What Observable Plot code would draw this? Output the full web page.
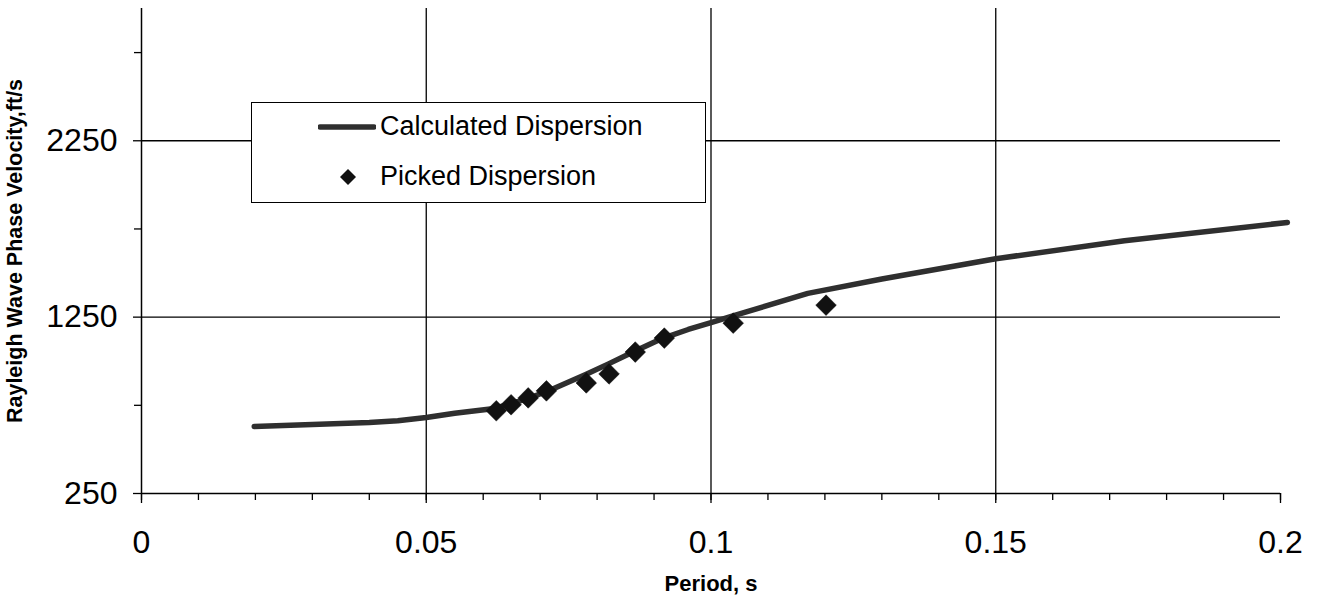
<!DOCTYPE html>
<html>
<head>
<meta charset="utf-8">
<script src="https://cdn.jsdelivr.net/npm/d3@7"></script>
<script src="https://cdn.jsdelivr.net/npm/@observablehq/plot@0.6"></script>
<style>
  html, body { margin: 0; padding: 0; background: #fff; }
  #wrap { position: relative; width: 1319px; height: 609px; font-family: "Liberation Sans", Arial, sans-serif; }
  #legend { position: absolute; left: 251px; top: 102px; width: 453px; height: 99px; border: 1.5px solid #000; background: #fff; }
  #legend .row { position: absolute; left: 0; display: flex; align-items: center; font-size: 27px; color: #000; }
</style>
</head>
<body>
<div id="wrap"></div>
<script>
// ---- data ----
const calcPeriod = [0.0198, 0.03, 0.04, 0.045, 0.05, 0.055, 0.062, 0.068, 0.072, 0.078, 0.082, 0.0865, 0.0915, 0.096, 0.1, 0.104, 0.117, 0.13, 0.15, 0.1726, 0.2012];
const calcVelocity = [630, 641, 652, 662, 681, 705, 732, 790, 840, 925, 985, 1055, 1130, 1180, 1219, 1258, 1385, 1466, 1581, 1683, 1787];
const pickPeriod = [0.0623, 0.0649, 0.0679, 0.0711, 0.0781, 0.0821, 0.0867, 0.0918, 0.1039, 0.1202];
const pickVelocity = [719, 753, 792, 832, 877, 928, 1052, 1131, 1216, 1318];
const xTicks = [0, 0.05, 0.1, 0.15, 0.2];
const xMinorTicks = [0, 0.01, 0.02, 0.03, 0.04, 0.05, 0.06, 0.07, 0.08, 0.09, 0.1, 0.11, 0.12, 0.13, 0.14, 0.15, 0.16, 0.17, 0.18, 0.19, 0.2];
const yTicks = [250, 1250, 2250];
const yMinorTicks = [750, 1750, 2750];
const xLabel = "Period, s";
const yLabel = "Rayleigh Wave Phase Velocity,ft/s";
const seriesNames = ["Calculated Dispersion", "Picked Dispersion"];

const calc = calcPeriod.map((p, i) => ({period: p, velocity: calcVelocity[i]}));
const picks = pickPeriod.map((p, i) => ({period: p, velocity: pickVelocity[i]}));

const chart = Plot.plot({
  width: 1319,
  height: 609,
  marginLeft: 141,
  marginRight: 39,
  marginTop: 8,
  marginBottom: 116,
  style: {fontFamily: "'Liberation Sans', Arial, sans-serif", background: "#fff", color: "#000"},
  x: {domain: [0, 0.2]},
  y: {domain: [250, 3000]},
  marks: [
    Plot.gridX([0.05, 0.1, 0.15], {stroke: "#000", strokeOpacity: 1, strokeWidth: 1.3}),
    Plot.gridY([1250, 2250], {stroke: "#000", strokeOpacity: 1, strokeWidth: 1.3}),
    Plot.axisX({ticks: xTicks, tickSize: 10, tickPadding: 27, fontSize: 32, tickFormat: d => String(+d.toFixed(2)), label: null, strokeWidth: 1.3}),
    Plot.axisX({ticks: xMinorTicks, tickSize: 7, text: null, label: null, strokeWidth: 1.3}),
    Plot.axisY({ticks: yTicks, tickSize: 8, tickPadding: 16, fontSize: 32, tickFormat: d => String(d), label: null, strokeWidth: 1.3}),
    Plot.axisY({ticks: yMinorTicks, tickSize: 7, text: null, label: null, strokeWidth: 1.3}),
    Plot.ruleX([0], {stroke: "#000", strokeWidth: 1.5}),
    Plot.ruleY([250], {stroke: "#000", strokeWidth: 1.5}),
    Plot.line(calc, {x: "period", y: "velocity", stroke: "#2f2f2f", strokeWidth: 5.5, strokeLinecap: "round", strokeLinejoin: "round"}),
    Plot.dot(picks, {x: "period", y: "velocity", symbol: "diamond2", r: 9.3, fill: "#111", stroke: "#111", strokeWidth: 0.5}),
    Plot.text([xLabel], {frameAnchor: "bottom", dy: 97, fontSize: 22, fontWeight: "bold", fill: "#000"}),
    Plot.text([yLabel], {frameAnchor: "left", textAnchor: "middle", dx: -126, rotate: -90, fontSize: 21.5, fontWeight: "bold", fill: "#000", letterSpacing: "1.8px"})
  ]
});

const wrap = document.getElementById("wrap");
wrap.appendChild(chart);

// legend (HTML overlay)
const legend = document.createElement("div");
legend.id = "legend";
legend.innerHTML = `
  <div class="row" style="top:8px;left:66px;">
    <svg width="58" height="20"><line x1="2" y1="10" x2="56" y2="10" stroke="#2f2f2f" stroke-width="5.5" stroke-linecap="round"/></svg>
    <span style="margin-left:4px">${seriesNames[0]}</span>
  </div>
  <div class="row" style="top:58px;left:88px;">
    <svg width="40" height="20"><path d="M 8 2 L 16 10 L 8 18 L 0 10 Z" fill="#111"/></svg>
    <span>${seriesNames[1]}</span>
  </div>`;
wrap.appendChild(legend);
</script>
</body>
</html>
